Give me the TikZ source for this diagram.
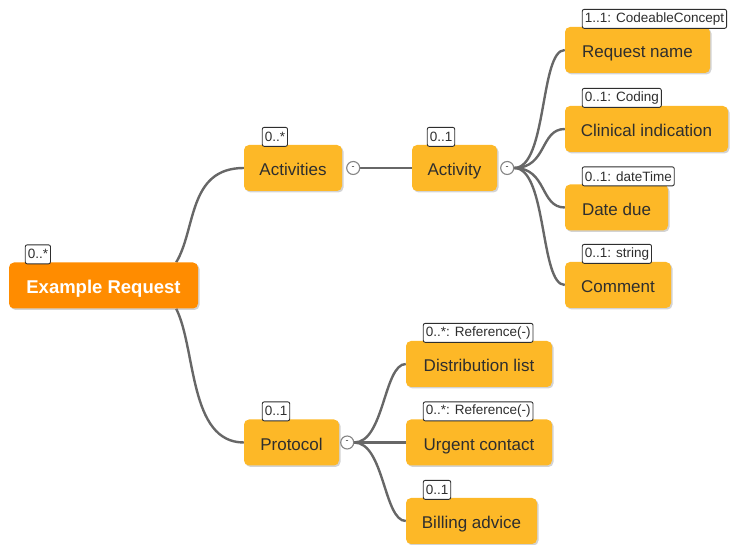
\documentclass[tikz,border=0pt]{standalone}
\usepackage{fontspec}
\setmainfont{Liberation Sans}
\usetikzlibrary{shadows,positioning}
\definecolor{itemfill}{HTML}{FDB827}
\definecolor{rootfill}{HTML}{FF8C00}
\definecolor{wire}{HTML}{676767}
\definecolor{ink}{HTML}{2E2E2E}
\pgfdeclarelayer{bg}
\pgfsetlayers{bg,main}
\tikzset{
  item/.style={rectangle, rounded corners=5pt, fill=itemfill, text=ink,
    minimum height=46, inner sep=0pt, text height=15.4pt, text depth=0pt,
    font=\fontsize{17}{20}\selectfont,
    drop shadow={shadow xshift=1.5pt, shadow yshift=-1.5pt, opacity=0.35}},
  rootitem/.style={item, fill=rootfill, text=white, text height=17pt,
    font=\fontsize{18.5}{22}\selectfont\bfseries},
  tag/.style={rectangle, rounded corners=2pt, draw=ink, line width=0.9pt,
    fill=white, text=ink, inner xsep=2.5pt, inner ysep=0pt,
    minimum height=19, anchor=south west,
    font=\fontsize{13.5}{15}\selectfont},
  toggle/.style={circle, draw=wire!80, line width=1.1pt, fill=white,
    minimum size=13, inner sep=0pt, text=ink,
    font=\fontsize{9}{9}\selectfont},
  conn/.style={draw=wire, line width=2.4pt}
}
\begin{document}
\begin{tikzpicture}[x=1pt,y=-1pt]
\clip (0,0) rectangle (732,545);

% nodes of the tree
\node[rootitem, minimum width=189] (root) at (103.5,285.5) {Example Request};
\node[item, minimum width=98] (acts) at (293,168) {Activities};
\node[item, minimum width=85] (act) at (454.5,168) {Activity};
\node[item, minimum width=145] (rname) at (637.5,50) {Request name};
\node[item, minimum width=163] (clin) at (646.5,129) {Clinical indication};
\node[item, minimum width=103] (due) at (616.5,207.5) {Date due};
\node[item, minimum width=106] (cmt) at (618,285) {Comment};
\node[item, minimum width=95] (proto) at (291.5,442.5) {Protocol};
\node[item, minimum width=146] (dist) at (479,364) {Distribution list};
\node[item, minimum width=146] (urg) at (479,442.5) {Urgent contact};
\node[item, minimum width=131] (bill) at (471.5,521) {Billing advice};

% collapse toggles
\node[toggle] (actsT) at ([xshift=11pt]acts.east) {-};
\node[toggle] (actT) at ([xshift=10pt]act.east) {-};
\node[toggle] (protoT) at ([xshift=8pt]proto.east) {-};

% cardinality tags
\node[tag] (rootC) at ([xshift=16pt,yshift=-2pt]root.north west) {0..*};
\node[tag] (actsC) at ([xshift=18pt,yshift=-2pt]acts.north west) {0..*};
\node[tag] (actC) at ([xshift=15pt,yshift=-2pt]act.north west) {0..1};
\node[tag] (rnameC) at ([xshift=17pt,yshift=-2pt]rname.north west) {1..1: CodeableConcept};
\node[tag] (clinC) at ([xshift=17pt,yshift=-2pt]clin.north west) {0..1: Coding};
\node[tag] (dueC) at ([xshift=17pt,yshift=-2pt]due.north west) {0..1: dateTime};
\node[tag] (cmtC) at ([xshift=17pt,yshift=-2pt]cmt.north west) {0..1: string};
\node[tag] (protoC) at ([xshift=18pt,yshift=-2pt]proto.north west) {0..1};
\node[tag] (distC) at ([xshift=17pt,yshift=-2pt]dist.north west) {0..*: Reference(-)};
\node[tag] (urgC) at ([xshift=17pt,yshift=-2pt]urg.north west) {0..*: Reference(-)};
\node[tag] (billC) at ([xshift=17pt,yshift=-2pt]bill.north west) {0..1};

% connectors
\begin{pgfonlayer}{bg}
\draw[conn] ([xshift=-22pt]root.north east) .. controls +(20,-33) and +(-56,0) .. (acts.west);
\draw[conn] ([xshift=-22pt]root.south east) .. controls +(20,40) and +(-55,0) .. (proto.west);
\draw[conn] (actsT.east) -- (act.west);
\foreach \c in {rname,clin,due,cmt}
  \draw[conn] (actT.east) .. controls +(33,0) and +(-25,0) .. (\c.west);
\foreach \c in {dist,urg,bill}
  \draw[conn] (protoT.east) .. controls +(30,0) and +(-22,0) .. (\c.west);
\end{pgfonlayer}
\end{tikzpicture}
\end{document}
